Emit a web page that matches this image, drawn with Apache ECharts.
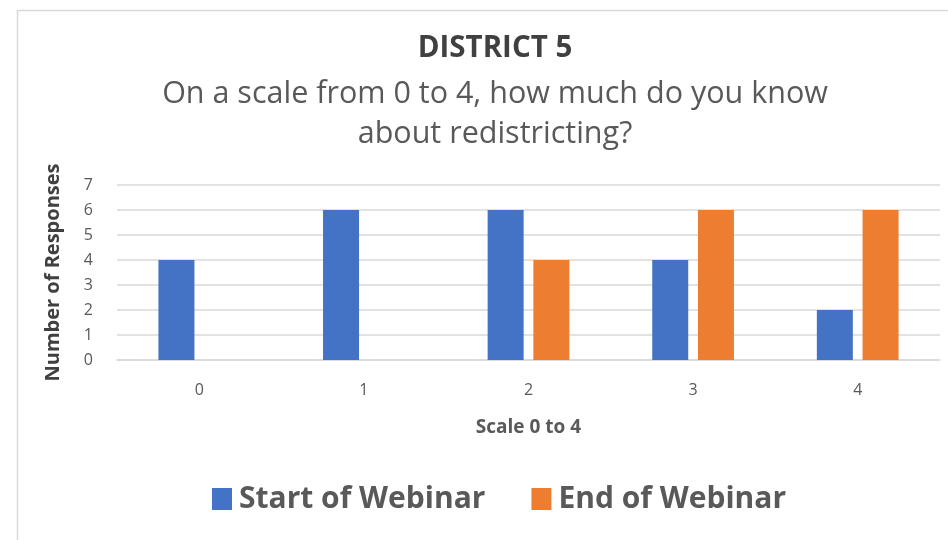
<!DOCTYPE html>
<html><head><meta charset="utf-8">
<script src="https://cdn.jsdelivr.net/npm/echarts@6/dist/echarts.min.js"></script>
<style>html,body{margin:0;padding:0;background:#fff}#c{width:948px;height:540px}</style>
</head><body><div id="c"></div>
<script>
const categories = ['0','1','2','3','4'];
const startWebinar = [4,6,6,4,2];
const endWebinar = [0,0,4,6,6];
const yTicks = [0,1,2,3,4,5,6,7];
const titleText = 'DISTRICT 5';
const subtitleText = 'On a scale from 0 to 4, how much do you know\nabout redistricting?';

const FONT = '"Open Sans", Lato, sans-serif';
const chart = echarts.init(document.getElementById('c'), null, {renderer:'canvas'});
chart.setOption({
  animation:false,
  graphic:[{type:'rect',left:15,top:8,shape:{width:960,height:560},style:{fill:'none',stroke:'#d9d9d9',lineWidth:1.5},z:-1}],
  title:[
    {text:titleText,left:490,textAlign:'center',top:29,textStyle:{fontFamily:FONT,fontSize:29.5,fontWeight:'bold',color:'#404040'}},
    {text:subtitleText,left:490,textAlign:'center',top:69,textStyle:{fontFamily:FONT,fontSize:30.5,fontWeight:'normal',color:'#595959',lineHeight:40,align:'center'}}
  ],
  legend:{bottom:21,left:207,itemGap:46,itemWidth:20,itemHeight:22,icon:'rect',
    textStyle:{fontFamily:FONT,fontSize:30,fontWeight:'bold',color:'#595959',padding:[0,0,0,2]},
    data:['Start of Webinar','End of Webinar']},
  grid:{left:117,right:8,top:185,height:175,containLabel:false},
  xAxis:{type:'category',data:categories,name:'Scale 0 to 4',nameLocation:'middle',nameGap:58,
    nameTextStyle:{fontFamily:FONT,fontSize:19,fontWeight:'bold',color:'#595959'},
    axisLine:{lineStyle:{color:'#d9d9d9',width:1.5}},axisTick:{show:false},
    axisLabel:{fontFamily:FONT,fontSize:16,color:'#595959',margin:22}},
  yAxis:{type:'value',min:0,max:7,interval:1,name:'Number of Responses',nameLocation:'middle',nameGap:54,nameRotate:90,
    nameTextStyle:{fontFamily:FONT,fontSize:20,fontWeight:'bold',color:'#404040'},
    axisLabel:{fontFamily:FONT,fontSize:16,color:'#595959',margin:24,formatter:v=>yTicks.includes(v)?String(v):''},
    splitLine:{lineStyle:{color:'#d9d9d9',width:1.5}},axisLine:{show:false},axisTick:{show:false}},
  series:[
    {name:'Start of Webinar',type:'bar',data:startWebinar,barWidth:36,barGap:'27%',itemStyle:{color:'#4472C4'}},
    {name:'End of Webinar',type:'bar',data:endWebinar,barWidth:36,itemStyle:{color:'#ED7D31'}}
  ]
});
</script></body></html>
